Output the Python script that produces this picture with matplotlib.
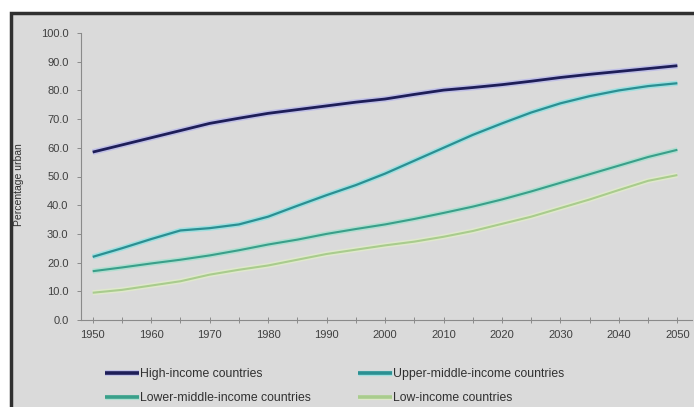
import matplotlib.pyplot as plt
import matplotlib.patheffects as pe
from matplotlib.patches import Rectangle

plt.rcParams['font.family'] = ['Liberation Sans', 'DejaVu Sans']

# === Data (percentage urban, every 5 years) ===
years = [1950, 1955, 1960, 1965, 1970, 1975, 1980, 1985, 1990, 1995, 2000,
         2005, 2010, 2015, 2020, 2025, 2030, 2035, 2040, 2045, 2050]
high = [58.5, 61.0, 63.5, 66.0, 68.5, 70.3, 72.0, 73.3, 74.6, 75.9, 77.0,
        78.6, 80.1, 81.0, 82.0, 83.2, 84.5, 85.6, 86.6, 87.6, 88.6]
upper_mid = [22.0, 25.0, 28.2, 31.2, 32.0, 33.3, 36.0, 39.8, 43.5, 47.0, 51.0,
             55.5, 60.0, 64.5, 68.5, 72.3, 75.5, 78.0, 80.0, 81.5, 82.5]
lower_mid = [17.0, 18.3, 19.7, 21.0, 22.5, 24.3, 26.3, 28.0, 30.0, 31.7, 33.3,
             35.2, 37.3, 39.5, 42.0, 44.8, 47.8, 50.8, 53.8, 56.8, 59.3]
low = [9.5, 10.5, 12.0, 13.5, 15.8, 17.5, 19.0, 21.0, 23.0, 24.5, 26.0,
       27.3, 29.0, 31.0, 33.5, 36.0, 39.0, 42.0, 45.3, 48.5, 50.5]

labels = ["High-income countries", "Upper-middle-income countries",
          "Lower-middle-income countries", "Low-income countries"]
series = [high, upper_mid, lower_mid, low]
colors = ["#1e1e58", "#2b8f92", "#3a9f8a", "#a9cc8e"]
glows = ["#b4b4ec", "#88e2e2", "#9fe0cc", "#e2eec6"]
widths = [2.0, 1.6, 1.5, 1.5]

bg = "#dadada"
fig = plt.figure(figsize=(6.94, 4.07), dpi=100)
fig.patch.set_facecolor("white")

# gray panel with dark frame on top/left
fig.patches.append(Rectangle((11 / 694, -0.05), 1.0, (407 - 13) / 407 + 0.05,
                             transform=fig.transFigure, facecolor=bg,
                             edgecolor="#303030", linewidth=2.5, zorder=-5))

ax = fig.add_axes([81 / 694, 87 / 407, (692 - 81) / 694, (320 - 33) / 407])
ax.set_facecolor(bg)

handles = []
for y, lab, c, g, w in zip(series, labels, colors, glows, widths):
    ln, = ax.plot(years, y, color=c, lw=w, label=lab, solid_capstyle="butt",
                  path_effects=[pe.Stroke(linewidth=w + 2.2, foreground=g, alpha=0.7),
                                pe.Normal()])
    handles.append(ln)

ax.set_xlim(1948, 2052.5)
ax.set_ylim(0, 100)
ax.set_yticks(range(0, 101, 10))
ax.set_yticklabels([f"{v:.1f}" for v in range(0, 101, 10)])
ax.set_xticks(range(1950, 2051, 10))
ax.set_xticks(range(1955, 2050, 10), minor=True)

for s in ["top", "right"]:
    ax.spines[s].set_visible(False)
for s in ["left", "bottom"]:
    ax.spines[s].set_color("#8a8a8a")
    ax.spines[s].set_linewidth(0.8)

ax.tick_params(axis="both", which="both", colors="#8a8a8a", labelcolor="#404040",
               labelsize=8, length=3, width=0.7)
ax.tick_params(axis="x", which="both", direction="inout", length=4, pad=5)
ax.tick_params(axis="y", pad=6)

fig.text(19 / 694, 1 - 185 / 407, "Percentage urban", rotation=90,
         fontsize=7.5, color="#303030", ha="center", va="center")

leg = fig.legend(handles=[handles[0], handles[2], handles[1], handles[3]],
                 labels=[labels[0], labels[2], labels[1], labels[3]],
                 ncol=2, loc="upper left", bbox_to_anchor=(105 / 694, 1 - 368 / 407),
                 frameon=False, fontsize=8.8, handlelength=2.8, handletextpad=0.1,
                 columnspacing=3.8, labelspacing=1.0, borderaxespad=0,
                 borderpad=0)
for t in leg.get_texts():
    t.set_color("#303030")
for h in leg.legend_handles:
    h.set_linewidth(2.6)

plt.savefig("out.png", dpi=100, facecolor=fig.get_facecolor())
plt.close()
